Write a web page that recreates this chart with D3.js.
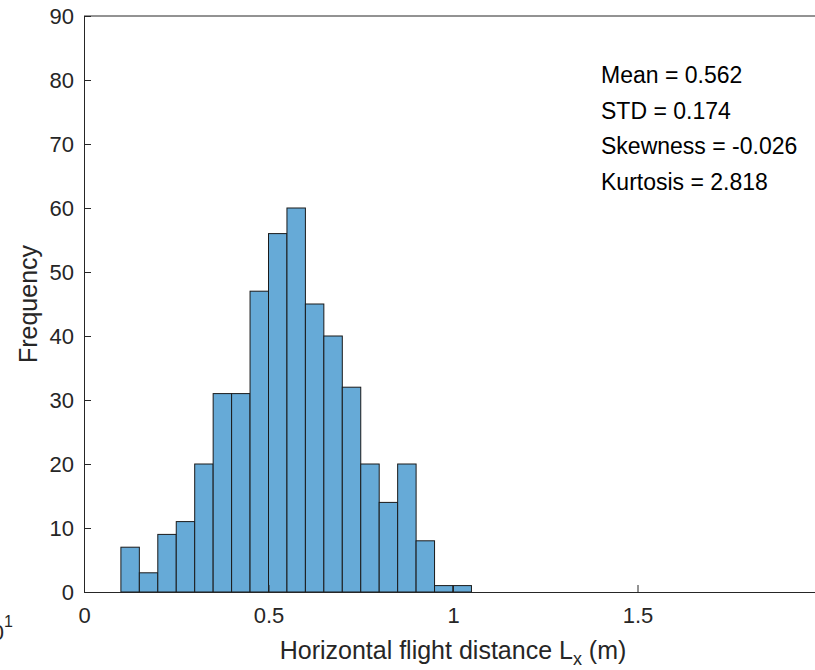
<!DOCTYPE html>
<html>
<head>
<meta charset="utf-8">
<script src="https://cdn.jsdelivr.net/npm/d3@7"></script>
<style>
  html, body { margin: 0; padding: 0; background: #fff; }
  svg { display: block; font-family: "Liberation Sans", Arial, Helvetica, sans-serif; }
</style>
</head>
<body>
<svg id="chart" width="815" height="670"></svg>
<script>
// Histogram of horizontal flight distance, bin width 0.05 m
const binEdges = [0.10, 0.15, 0.20, 0.25, 0.30, 0.35, 0.40, 0.45, 0.50, 0.55,
                  0.60, 0.65, 0.70, 0.75, 0.80, 0.85, 0.90, 0.95, 1.00, 1.05];
const counts = [7, 3, 9, 11, 20, 31, 31, 47, 56, 60, 45, 40, 32, 20, 14, 20, 8, 1, 1];
const xTicks = [0, 0.5, 1, 1.5];
const yTicks = [0, 10, 20, 30, 40, 50, 60, 70, 80, 90];
const statLines = ["Mean = 0.562", "STD = 0.174", "Skewness = -0.026", "Kurtosis = 2.818"];

const svg = d3.select("#chart");
const m = { left: 84, top: 16, bottom: 592, right: 822 };
const axisColor = "#262626";

const x = d3.scaleLinear().domain([0, 2]).range([m.left, m.right]);
const y = d3.scaleLinear().domain([0, 90]).range([m.bottom, m.top]);

const bins = counts.map((c, i) => ({ x0: binEdges[i], x1: binEdges[i + 1], n: c }));

// bars
svg.append("g").selectAll("rect").data(bins).join("rect")
  .attr("x", d => x(d.x0))
  .attr("y", d => y(d.n))
  .attr("width", d => x(d.x1) - x(d.x0))
  .attr("height", d => y(0) - y(d.n))
  .attr("fill", "#66aad7")
  .attr("stroke", "#1a1a1a")
  .attr("stroke-width", 1);

// axes (ticks drawn inward)
const tickLen = 7;
const xAxis = svg.append("g").attr("transform", `translate(0,${m.bottom})`)
  .call(d3.axisBottom(x).tickValues(xTicks).tickFormat(d3.format("")).tickSizeInner(-tickLen).tickSizeOuter(0).tickPadding(15));
const yAxis = svg.append("g").attr("transform", `translate(${m.left},0)`)
  .call(d3.axisLeft(y).tickValues(yTicks).tickSizeInner(-tickLen).tickSizeOuter(0).tickPadding(10));

[xAxis, yAxis].forEach(g => {
  g.select(".domain").attr("stroke", axisColor);
  g.selectAll(".tick line").attr("stroke", axisColor);
  g.selectAll(".tick text").attr("fill", axisColor).style("font-size", "22px");
});
yAxis.selectAll(".tick text").attr("dy", "0.35em");

// top border of the box
svg.append("line")
  .attr("x1", m.left).attr("x2", m.right)
  .attr("y1", m.top).attr("y2", m.top)
  .attr("stroke", axisColor);

// axis labels
const xl = svg.append("text")
  .attr("x", x(1)).attr("y", 659)
  .attr("text-anchor", "middle")
  .attr("fill", axisColor)
  .style("font-size", "25px");
xl.append("tspan").text("Horizontal flight distance L");
xl.append("tspan").attr("dy", 6).style("font-size", "18px").text("x");
xl.append("tspan").attr("dy", -6).text(" (m)");

svg.append("text")
  .attr("transform", `translate(37,${(m.top + m.bottom) / 2}) rotate(-90)`)
  .attr("text-anchor", "middle")
  .attr("fill", axisColor)
  .style("font-size", "25px")
  .text("Frequency");

// summary statistics
svg.append("g").selectAll("text").data(statLines).join("text")
  .attr("x", 601)
  .attr("y", (d, i) => 83 + i * 35.7)
  .attr("fill", "#000")
  .style("font-size", "23px")
  .text(d => d);

// neighbouring panel's axis exponent, partly cut off at the left edge
const ex = svg.append("text")
  .attr("x", 13).attr("y", 640)
  .attr("text-anchor", "end")
  .attr("fill", axisColor)
  .style("font-size", "22px");
ex.append("tspan").text("10");
ex.append("tspan").attr("dy", -13).style("font-size", "16px").text("1");
</script>
</body>
</html>
